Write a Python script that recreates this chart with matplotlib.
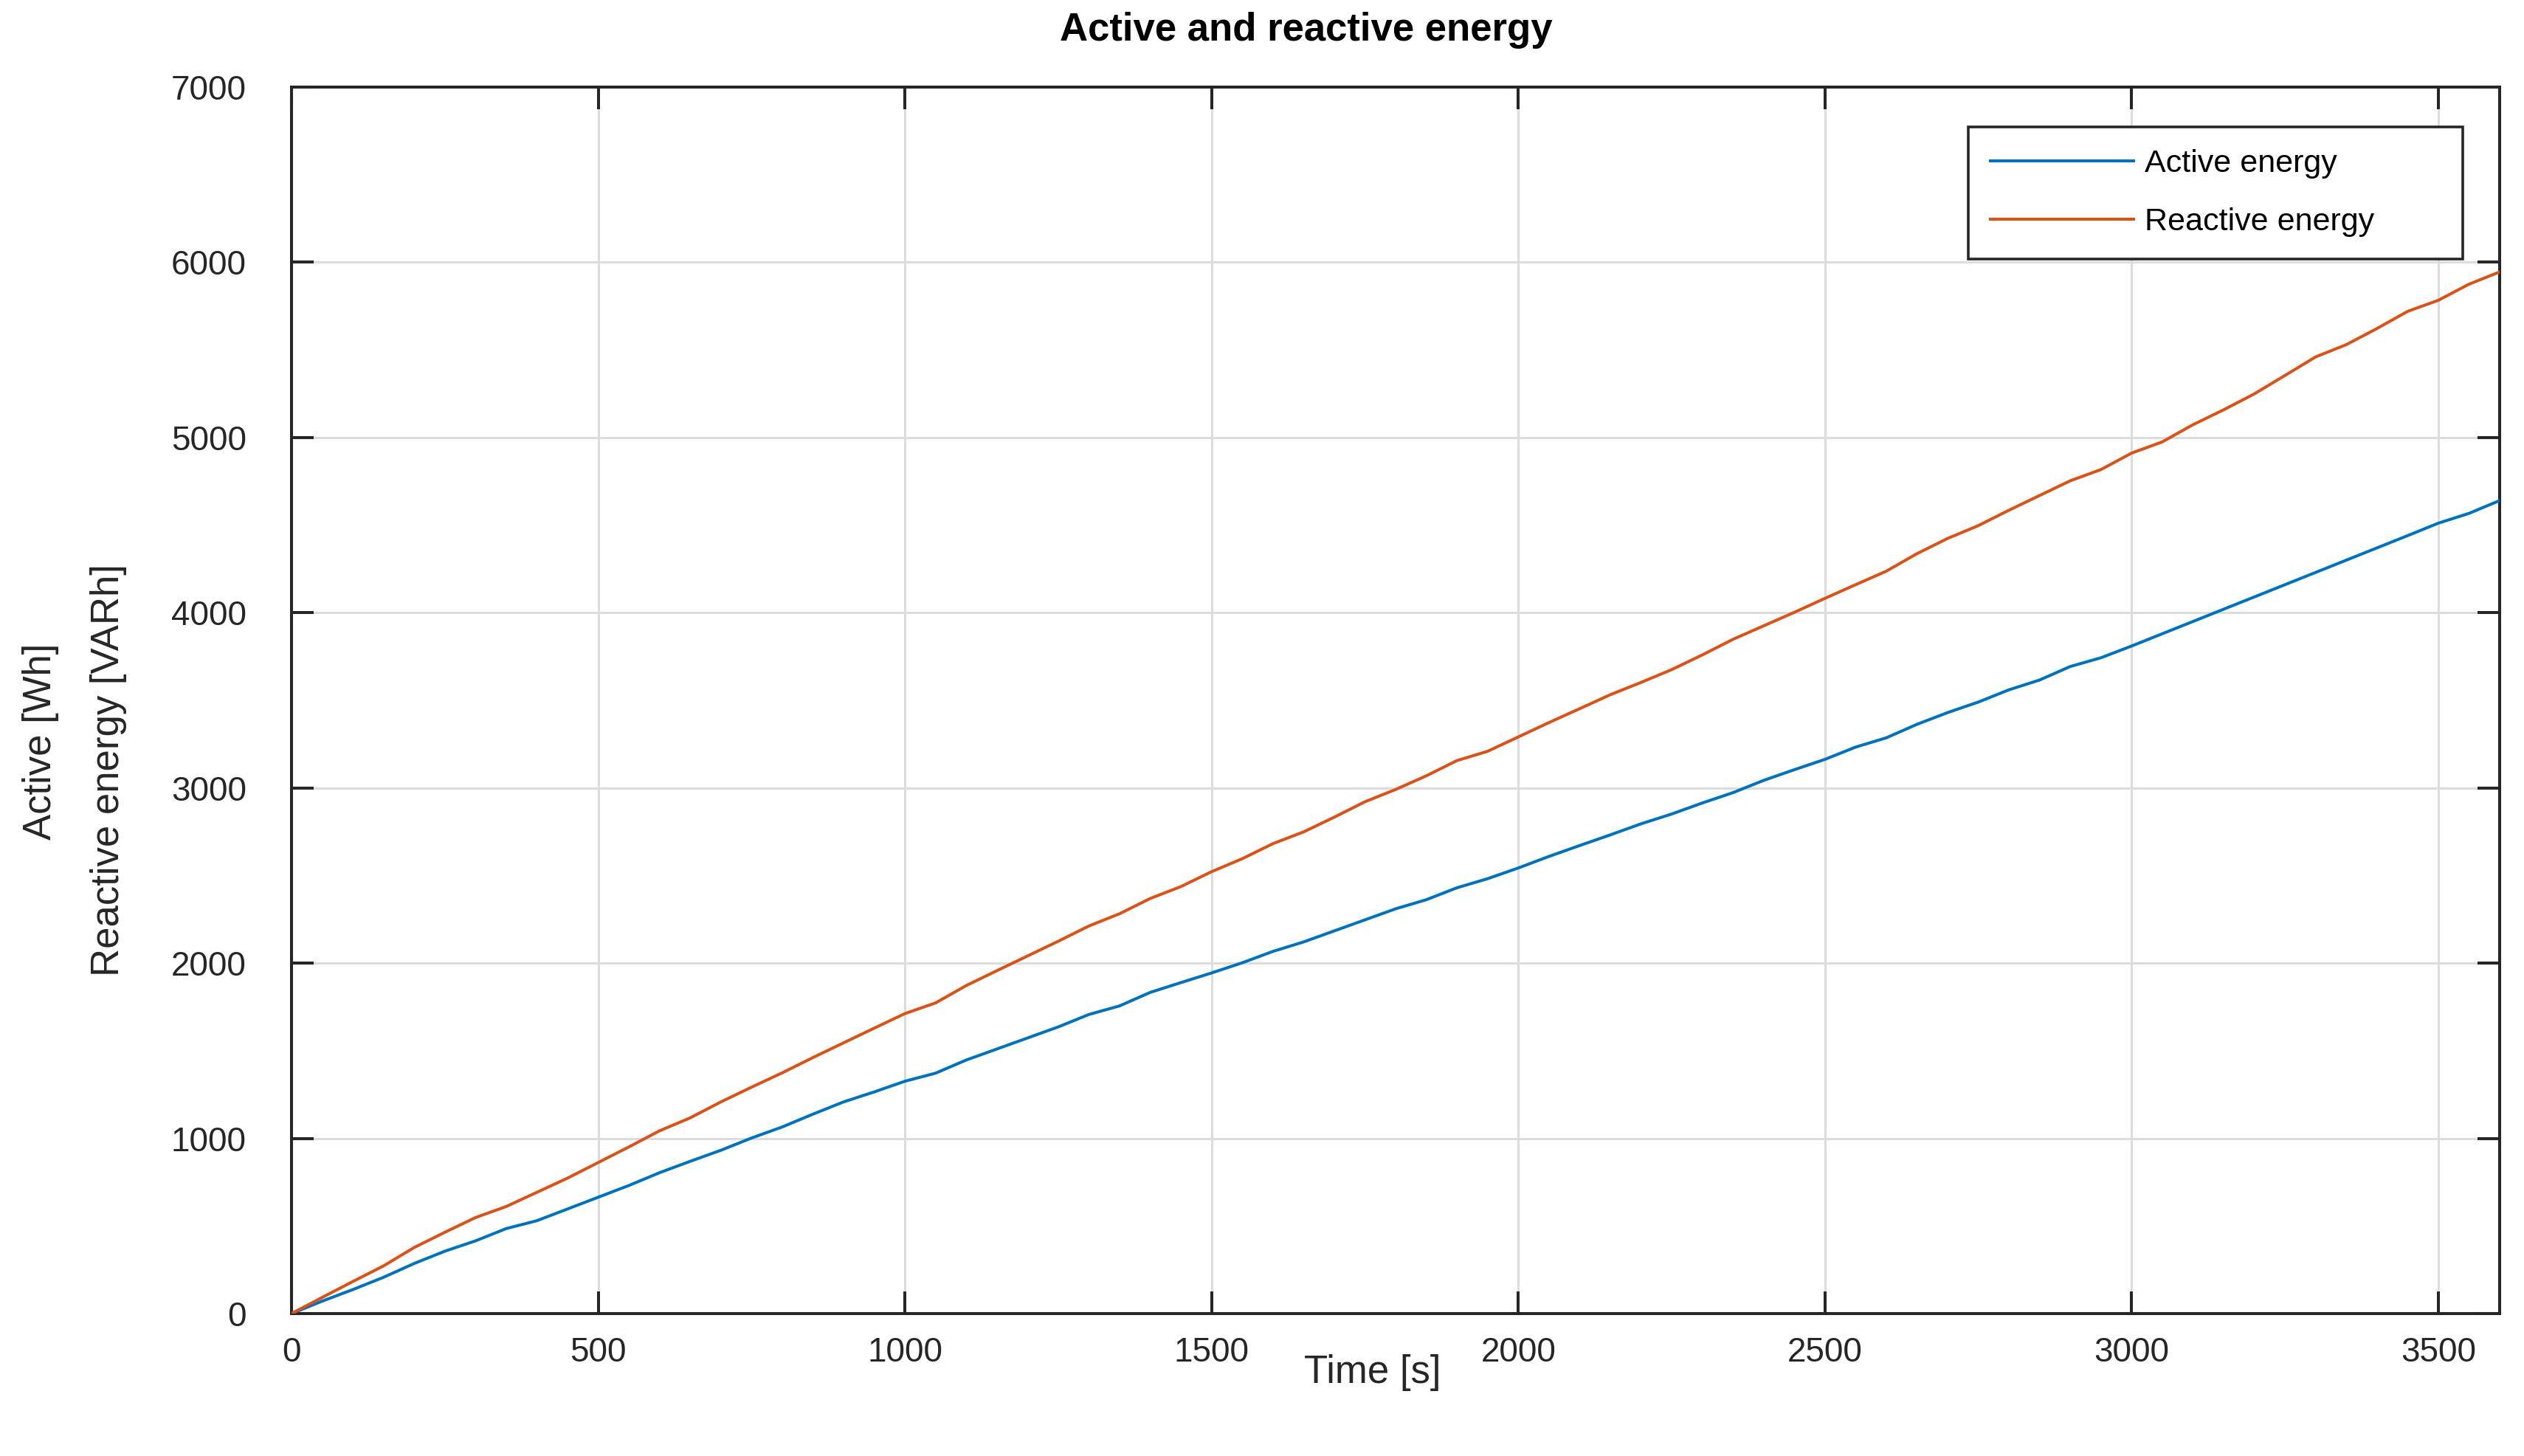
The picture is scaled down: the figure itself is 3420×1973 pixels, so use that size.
import matplotlib
matplotlib.use("Agg")
import matplotlib.pyplot as plt

# time samples [s]
time_s = [0, 50, 100, 150, 200, 250, 300, 350, 400, 450, 500, 550, 600, 650, 700,
          750, 800, 850, 900, 950, 1000, 1050, 1100, 1150, 1200, 1250, 1300, 1350,
          1400, 1450, 1500, 1550, 1600, 1650, 1700, 1750, 1800, 1850, 1900, 1950,
          2000, 2050, 2100, 2150, 2200, 2250, 2300, 2350, 2400, 2450, 2500, 2550,
          2600, 2650, 2700, 2750, 2800, 2850, 2900, 2950, 3000, 3050, 3100, 3150,
          3200, 3250, 3300, 3350, 3400, 3450, 3500, 3550, 3600]

# active energy [Wh]
active = [0, 71, 137, 207, 286, 356, 415, 485, 530, 597, 664, 731, 804, 869, 932,
          1002, 1065, 1138, 1208, 1265, 1326, 1372, 1447, 1510, 1573, 1636, 1707, 1756,
          1833, 1889, 1944, 2002, 2067, 2121, 2184, 2247, 2310, 2362, 2430, 2482,
          2543, 2609, 2671, 2732, 2795, 2851, 2914, 2973, 3043, 3104, 3163, 3233,
          3286, 3363, 3430, 3490, 3560, 3616, 3693, 3743, 3810, 3880, 3950, 4020,
          4090, 4160, 4230, 4300, 4370, 4440, 4511, 4567, 4640]

# reactive energy [VARh]
reactive = [0, 92, 183, 272, 377, 464, 548, 611, 692, 773, 862, 951, 1043, 1117, 1208,
            1292, 1374, 1461, 1545, 1629, 1712, 1773, 1872, 1957, 2041, 2125, 2212, 2282,
            2369, 2437, 2522, 2596, 2682, 2749, 2833, 2921, 2991, 3069, 3156, 3209,
            3291, 3373, 3452, 3532, 3602, 3675, 3759, 3848, 3925, 4002, 4082, 4160,
            4237, 4337, 4424, 4497, 4585, 4669, 4753, 4817, 4911, 4975, 5073, 5158,
            5249, 5354, 5460, 5530, 5622, 5720, 5783, 5875, 5945]

x_ticks = [0, 500, 1000, 1500, 2000, 2500, 3000, 3500]
y_ticks = [0, 1000, 2000, 3000, 4000, 5000, 6000, 7000]

plt.rcParams['font.family'] = ['Liberation Sans', 'DejaVu Sans']

W, H = 3420, 1973
fig = plt.figure(figsize=(W / 200, H / 200), dpi=200)
ax = fig.add_axes([395 / W, 1 - 1780 / H, (3387 - 395) / W, (1780 - 118) / H])

dark = '#262626'
ax.plot(time_s, active, color='#0072BD', linewidth=1.45, label='Active energy', zorder=3)
ax.plot(time_s, reactive, color='#D95319', linewidth=1.45, label='Reactive energy', zorder=3)

ax.set_xlim(0, 3600)
ax.set_ylim(0, 7000)
ax.set_xticks(x_ticks)
ax.set_yticks(y_ticks)
ax.grid(True, color='#dcdcdc', linewidth=1.1)
ax.set_axisbelow(True)

for s in ax.spines.values():
    s.set_color(dark)
    s.set_linewidth(1.45)
ax.tick_params(direction='in', length=10.8, width=1.45, color=dark,
               top=True, right=True, labelsize=16.5, labelcolor=dark)
ax.tick_params(axis='y', pad=22)
ax.tick_params(axis='x', pad=11)

# title and labels
fig.text(1770 / W, 1 - 41 / H, 'Active and reactive energy', ha='center', va='center',
         fontsize=19, fontweight='bold', color='black')
fig.text(1860 / W, 1 - 1860 / H, 'Time [s]', ha='center', va='center',
         fontsize=19, color=dark)
fig.text(55 / W, 1 - 1005 / H, 'Active [Wh]', ha='center', va='center',
         rotation=90, fontsize=19, color=dark)
fig.text(147 / W, 1 - 1044 / H, 'Reactive energy [VARh]', ha='center', va='center',
         rotation=90, fontsize=19, color=dark)

leg = ax.legend(loc='upper left', mode='expand',
                bbox_to_anchor=(2667 / W, 1 - 172 / H, (3337 - 2667) / W, 0.0),
                bbox_transform=fig.transFigure,
                fontsize=15.5, handlelength=4.5, handletextpad=0.35,
                labelspacing=0.9, borderpad=0.7, borderaxespad=0,
                fancybox=False, framealpha=1, edgecolor=dark)
leg.get_frame().set_linewidth(1.3)

fig.savefig('out.png', dpi=200, facecolor='white')
